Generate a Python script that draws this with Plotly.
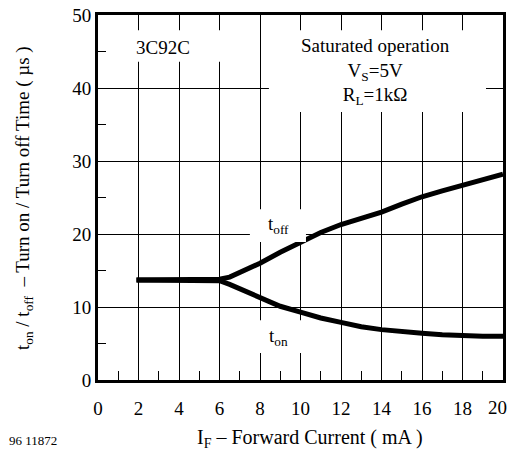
import plotly.graph_objects as go

# Data
x_vals = [1.9, 3, 4, 5, 5.5, 6, 6.5, 7, 7.5, 8, 9, 10, 11, 12, 13, 14, 15, 16, 17, 18, 19, 20]
t_off = [13.7, 13.7, 13.7, 13.7, 13.7, 13.8, 14.1, 14.7, 15.4, 16.0, 17.5, 18.9, 20.2, 21.3, 22.2, 23.0, 24.1, 25.1, 25.9, 26.7, 27.4, 28.2]
t_on = [13.7, 13.7, 13.7, 13.7, 13.7, 13.6, 13.1, 12.5, 11.8, 11.2, 10.1, 9.3, 8.5, 7.9, 7.3, 6.9, 6.6, 6.4, 6.2, 6.05, 6.0, 6.0]

x_ticks = list(range(0, 21, 2))
y_ticks = list(range(0, 51, 10))

FONT = "Liberation Serif"

# plot area in pixels (for placing outside texts)
L, R, T, B = 98, 503, 15, 380
def px(x):
    return (x - L) / (R - L)
def py(y):
    return (B - y) / (B - T)

fig = go.Figure()
fig.add_trace(go.Scatter(x=x_vals, y=t_off, mode="lines",
                         line=dict(color="black", width=5), showlegend=False))
fig.add_trace(go.Scatter(x=x_vals, y=t_on, mode="lines",
                         line=dict(color="black", width=5), showlegend=False))

# white label backgrounds (interrupt gridlines)
boxes = [
    (1.58, 6.52, 43.6, 47.9),
    (8.44, 19.16, 36.7, 47.9),
    (7.5, 10.27, 18.9, 23.4),
    (7.6, 10.27, 3.7, 8.2),
]
for x0, x1, y0, y1 in boxes:
    fig.add_shape(type="rect", x0=x0, x1=x1, y0=y0, y1=y1, xref="x", yref="y",
                  fillcolor="white", line=dict(width=0), layer="above")

def ann(text, x, y, size=19, **kw):
    fig.add_annotation(text=text, x=x, y=y, xref="x", yref="y", showarrow=False,
                       xanchor="center", yanchor="middle",
                       font=dict(family=FONT, size=size, color="black"), **kw)

ann("3C92C", 3.2, 45.6)
ann("Saturated operation<br>V<sub>S</sub>=5V<br>R<sub>L</sub>=1kΩ", 13.7, 42.2)
ann("t<sub>off</sub>", 8.9, 21.2)
ann("t<sub>on</sub>", 8.9, 5.9)

def pann(text, x, y, size=19, **kw):
    fig.add_annotation(text=text, x=px(x), y=py(y), xref="paper", yref="paper",
                       showarrow=False, xanchor="center", yanchor="middle",
                       font=dict(family=FONT, size=size, color="black"), **kw)

pann("I<sub>F</sub> – Forward Current ( mA )", 310, 438, size=20)
pann("96 11872", 33, 440, size=13)
pann("t<sub>on</sub> / t<sub>off</sub>  – Turn on / Turn off Time ( µs )", 24, 198, textangle=-90)

# last x tick label sits at the figure edge; draw it as an annotation so it is not dropped
fig.add_annotation(text=str(x_ticks[-1]), x=x_ticks[-1], xref="x", y=py(408), yref="paper",
                   xanchor="right", yanchor="middle", xshift=6, showarrow=False,
                   font=dict(family=FONT, size=19, color="black"))

fig.update_layout(
    width=512, height=452,
    margin=dict(l=L, r=512 - R, t=T, b=452 - B, autoexpand=False),
    paper_bgcolor="white", plot_bgcolor="white",
    font=dict(family=FONT, size=18, color="black"),
)
fig.update_xaxes(range=[0, 20], tickvals=x_ticks[:-1], ticks="", showgrid=True,
                 gridcolor="black", gridwidth=1, showline=True, linecolor="black",
                 linewidth=3, mirror=True, zeroline=False, ticklabelstandoff=9,
                 automargin=False,
                 minor=dict(tickvals=list(range(1, 20, 2)), ticks="inside", ticklen=9,
                            tickcolor="black", tickwidth=1, showgrid=False),
                 tickfont=dict(family=FONT, size=19))
fig.update_yaxes(range=[0, 50], tickvals=y_ticks, ticks="", showgrid=True,
                 gridcolor="black", gridwidth=1, showline=True, linecolor="black",
                 linewidth=3, mirror=True, zeroline=False, automargin=False,
                 minor=dict(tickvals=list(range(5, 50, 10)), ticks="inside", ticklen=8,
                            tickcolor="black", tickwidth=1, showgrid=False),
                 tickfont=dict(family=FONT, size=19))

fig.write_html("out.html", config={"displayModeBar": False, "responsive": False},
               post_script="document.body.style.margin='0';")
